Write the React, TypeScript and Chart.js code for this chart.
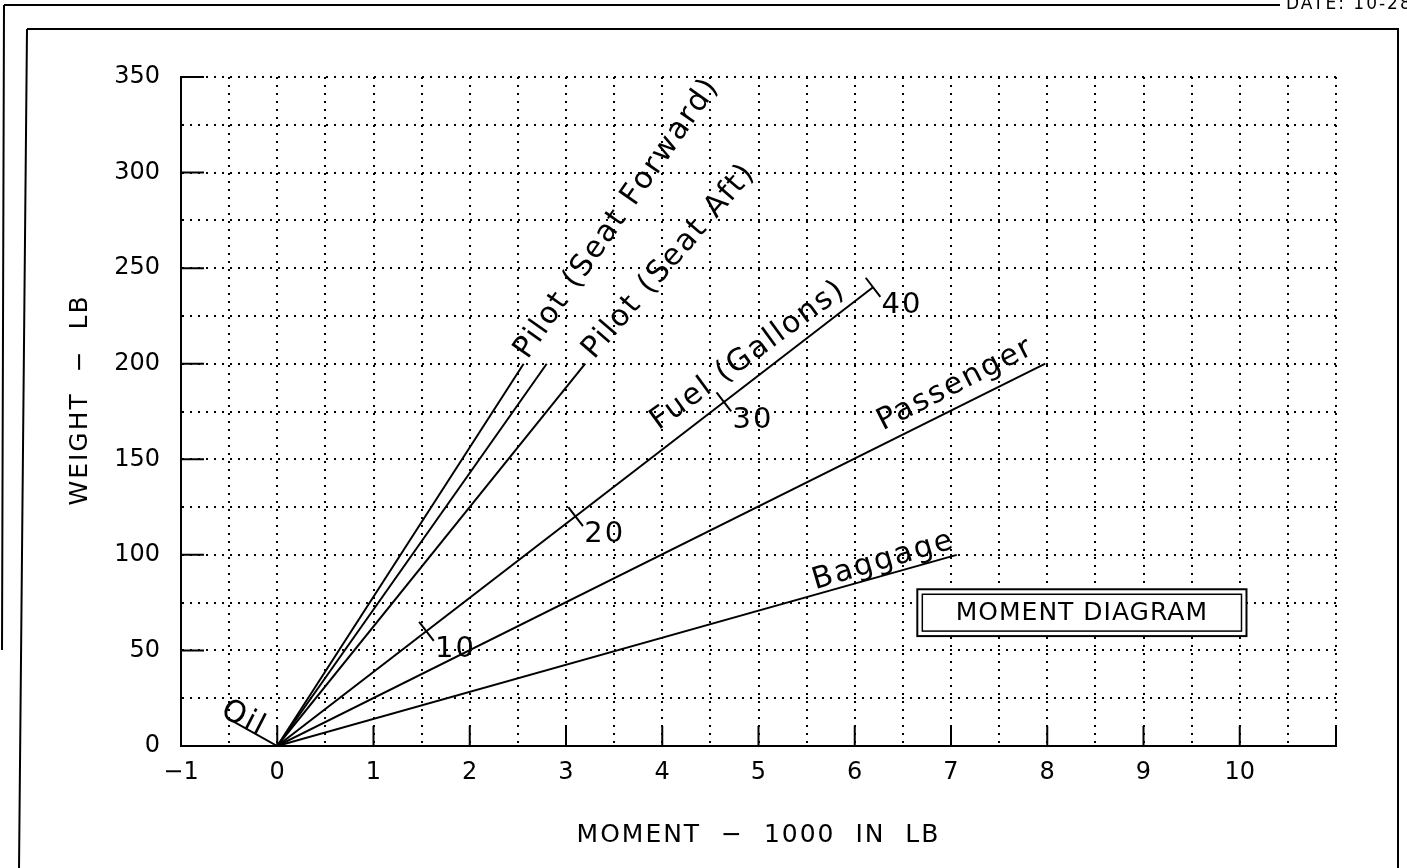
import React, { useEffect, useRef } from 'react';
import { Chart, registerables } from 'chart.js';

Chart.register(...registerables);

// ---------------- data ----------------
const lineNames = [
  'Oil',
  'Pilot (Seat Forward)',
  'Pilot (Seat Forward) limit',
  'Pilot (Seat Aft)',
  'Fuel (Gallons)',
  'Passenger',
  'Baggage',
];
const lineEndMoments = [-0.5, 2.56, 2.8, 3.2, 6.19, 7.98, 7.06];
const lineEndWeights = [14, 200, 200, 200, 240, 200, 100];

const fuelGallons = [10, 20, 30, 40];
const fuelMoments = [1.55, 3.1, 4.64, 6.19];
const fuelWeights = [60, 120, 180, 240];

const xTickLabels = [-1, 0, 1, 2, 3, 4, 5, 6, 7, 8, 9, 10];
const yTickLabels = [0, 50, 100, 150, 200, 250, 300, 350];

const xTitle = 'MOMENT  \u2212  1000  IN  LB';
const yTitle = 'WEIGHT  \u2212  LB';
const boxTitle = 'MOMENT DIAGRAM';
const dateText = 'DATE: 10-28-05';

// label annotations: text, anchor moment, anchor weight, angle (deg)
const labelTexts = ['Oil', 'Pilot (Seat Forward)', 'Pilot (Seat Aft)', 'Fuel (Gallons)', 'Passenger', 'Baggage'];
const labelMoments = [-0.6, 2.6, 3.29, 3.96, 6.29, 5.59];
const labelWeights = [16, 202, 202, 165, 165, 82];
const labelAngles = [27, -55, -49, -36, -27, -16.5];

const FONT = '"DejaVu Sans", "Liberation Sans", sans-serif';

function drawText(
  ctx: CanvasRenderingContext2D,
  text: string,
  x: number,
  y: number,
  angle: number,
  size: number,
  spacing: number,
  align: CanvasTextAlign = 'left',
  baseline: CanvasTextBaseline = 'alphabetic'
) {
  ctx.save();
  ctx.translate(x, y);
  ctx.rotate((angle * Math.PI) / 180);
  ctx.font = `${size}px ${FONT}`;
  (ctx as any).letterSpacing = `${spacing}px`;
  ctx.textAlign = align;
  ctx.textBaseline = baseline;
  ctx.fillStyle = '#000';
  ctx.fillText(text, 0, 0);
  ctx.restore();
}

const decorPlugin = {
  id: 'decor',
  beforeDraw(chart: any) {
    const ctx: CanvasRenderingContext2D = chart.ctx;
    ctx.save();
    ctx.fillStyle = '#fff';
    ctx.fillRect(0, 0, chart.width, chart.height);
    ctx.strokeStyle = '#000';
    ctx.lineWidth = 2;
    // outer sheet lines
    ctx.beginPath();
    ctx.moveTo(4, 5);
    ctx.lineTo(1280, 5);
    ctx.moveTo(4, 5);
    ctx.lineTo(2, 650);
    // inner frame
    ctx.moveTo(27, 29);
    ctx.lineTo(1398, 29);
    ctx.lineTo(1398, 868);
    ctx.moveTo(27, 29);
    ctx.lineTo(19, 868);
    ctx.stroke();
    ctx.restore();
    drawText(ctx, dateText, 1286, 9, 0, 17, 2);
  },
  afterDraw(chart: any) {
    const ctx: CanvasRenderingContext2D = chart.ctx;
    const xs = chart.scales.x;
    const ys = chart.scales.y;
    const area = chart.chartArea;

    ctx.save();
    ctx.strokeStyle = '#000';
    ctx.lineWidth = 2;
    ctx.setLineDash([]);
    // inward major ticks
    ctx.beginPath();
    yTickLabels.forEach((v) => {
      const py = ys.getPixelForValue(v);
      ctx.moveTo(area.left, py);
      ctx.lineTo(area.left + 23, py);
    });
    xTickLabels.concat([11]).forEach((v) => {
      const px = xs.getPixelForValue(v);
      ctx.moveTo(px, area.bottom);
      ctx.lineTo(px, area.bottom - 20);
    });
    ctx.stroke();

    // fuel gallon ticks
    const ox = xs.getPixelForValue(0);
    const oy = ys.getPixelForValue(0);
    const fi = lineNames.indexOf('Fuel (Gallons)');
    const ex = xs.getPixelForValue(lineEndMoments[fi]);
    const ey = ys.getPixelForValue(lineEndWeights[fi]);
    const len = Math.hypot(ex - ox, ey - oy);
    const dx = (ex - ox) / len;
    const dy = (ey - oy) / len;
    const nx = -dy;
    const ny = dx;
    ctx.lineWidth = 2;
    ctx.beginPath();
    fuelMoments.forEach((m, i) => {
      const px = xs.getPixelForValue(m);
      const py = ys.getPixelForValue(fuelWeights[i]);
      ctx.moveTo(px - 12 * nx, py - 12 * ny);
      ctx.lineTo(px + 12 * nx, py + 12 * ny);
    });
    ctx.stroke();
    ctx.restore();

    fuelMoments.forEach((m, i) => {
      const px = xs.getPixelForValue(m);
      const py = ys.getPixelForValue(fuelWeights[i]);
      drawText(ctx, String(fuelGallons[i]), px + 32 * nx + 12 * dx, py + 32 * ny + 12 * dy, 0, 29, 2, 'center', 'middle');
    });

    // line labels
    labelTexts.forEach((t, i) => {
      const px = xs.getPixelForValue(labelMoments[i]);
      const py = ys.getPixelForValue(labelWeights[i]);
      drawText(ctx, t, px, py, labelAngles[i], 30, 2, 'left', 'alphabetic');
    });

    // MOMENT DIAGRAM box
    const bl = xs.getPixelForValue(6.65);
    const br = xs.getPixelForValue(10.07);
    const bt = ys.getPixelForValue(82);
    const bb = ys.getPixelForValue(57.5);
    ctx.save();
    ctx.fillStyle = '#fff';
    ctx.fillRect(bl, bt, br - bl, bb - bt);
    ctx.strokeStyle = '#000';
    ctx.lineWidth = 2;
    ctx.strokeRect(bl, bt, br - bl, bb - bt);
    ctx.lineWidth = 1.5;
    ctx.strokeRect(bl + 5, bt + 5, br - bl - 10, bb - bt - 10);
    ctx.restore();
    drawText(ctx, boxTitle, (bl + br) / 2, (bt + bb) / 2 + 1, 0, 25, 1, 'center', 'middle');

    // axis titles
    drawText(ctx, xTitle, (area.left + area.right) / 2, 835, 0, 25, 2, 'center', 'middle');
    drawText(ctx, yTitle, 80, 400, -90, 25, 2, 'center', 'middle');
  },
};

export default function App() {
  const canvasRef = useRef<HTMLCanvasElement | null>(null);

  useEffect(() => {
    document.body.style.margin = '0';
    document.body.style.overflow = 'hidden';
    const canvas = canvasRef.current;
    if (!canvas) return;

    const datasets = lineNames.map((name, i) => ({
      label: name,
      data: [
        { x: 0, y: 0 },
        { x: lineEndMoments[i], y: lineEndWeights[i] },
      ],
      showLine: true,
      borderColor: '#000',
      backgroundColor: '#000',
      borderWidth: 2,
      pointRadius: 0,
      fill: false,
    }));

    const chart = new Chart(canvas, {
      type: 'scatter',
      data: { datasets },
      options: {
        animation: false,
        responsive: false,
        devicePixelRatio: 1,
        events: [],
        layout: { padding: { top: 77, right: 71, bottom: 0, left: 0 } },
        plugins: {
          legend: { display: false },
          tooltip: { enabled: false },
          title: { display: false },
        },
        scales: {
          x: {
            type: 'linear',
            min: -1,
            max: 11,
            afterFit: (s: any) => {
              s.height = 122;
            },
            ticks: {
              stepSize: 0.5,
              autoSkip: false,
              maxRotation: 0,
              padding: 12,
              color: '#000',
              font: { family: FONT, size: 24 },
              callback: (v: any) => {
                const n = Number(v);
                if (!xTickLabels.includes(n)) return '';
                return n < 0 ? '\u2212' + Math.abs(n) : String(n);
              },
            },
            grid: { color: '#000', lineWidth: 2, drawTicks: false },
            border: { display: true, color: '#000', width: 2, dash: [2, 6] },
          },
          y: {
            type: 'linear',
            min: 0,
            max: 350,
            afterFit: (s: any) => {
              s.width = 181;
            },
            ticks: {
              stepSize: 25,
              autoSkip: false,
              padding: 21,
              color: '#000',
              font: { family: FONT, size: 24 },
              callback: (v: any) => {
                const n = Number(v);
                return yTickLabels.includes(n) ? String(n) : '';
              },
            },
            grid: { color: '#000', lineWidth: 2, drawTicks: false },
            border: { display: true, color: '#000', width: 2, dash: [2, 6] },
          },
        },
      },
      plugins: [decorPlugin],
    } as any);

    return () => {
      chart.destroy();
    };
  }, []);

  return (
    <div style={{ width: 1407, height: 868, position: 'relative', background: '#fff' }}>
      <canvas ref={canvasRef} width={1407} height={868} style={{ display: 'block' }} />
    </div>
  );
}
